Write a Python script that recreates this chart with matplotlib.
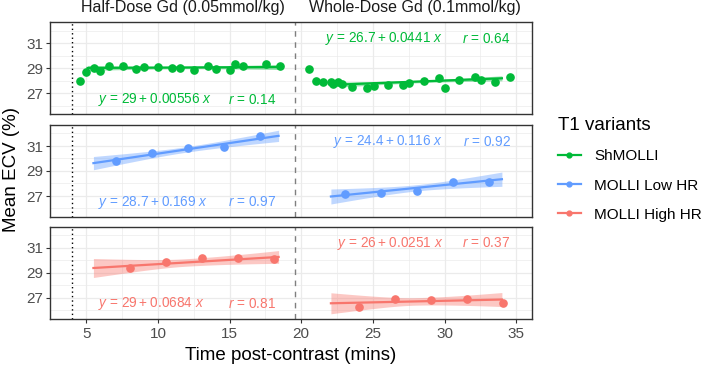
import numpy as np
import matplotlib
matplotlib.use('Agg')
import matplotlib.pyplot as plt
from matplotlib.lines import Line2D

plt.rcParams['font.family'] = ['Liberation Sans', 'DejaVu Sans']
plt.rcParams['mathtext.fontset'] = 'custom'
plt.rcParams['mathtext.it'] = 'Liberation Sans:italic'
plt.rcParams['mathtext.rm'] = 'Liberation Sans'

# ---- data ----
variants = ['ShMOLLI', 'MOLLI Low HR', 'MOLLI High HR']
colors = ['#00BA38', '#619CFF', '#F8766D']
dose_labels = ['Half-Dose Gd (0.05mmol/kg)', 'Whole-Dose Gd (0.1mmol/kg)']

shmolli_half_t = [4.53, 5.0, 5.56, 5.98, 6.56, 7.53, 8.49, 9.05, 10.02, 11.0, 11.56,
                  12.54, 13.51, 14.07, 15.05, 15.37, 15.93, 17.54, 18.54]
shmolli_half_ecv = [28.0, 28.74, 29.02, 28.82, 29.22, 29.22, 28.94, 29.14, 29.14, 29.02, 29.02,
                    28.88, 29.22, 28.94, 28.88, 29.34, 29.22, 29.34, 29.22]
shmolli_whole_t = [20.56, 21.0, 21.51, 22.07, 22.21, 22.53, 22.84, 23.51, 24.58, 25.05, 26.02,
                   27.1, 27.54, 28.53, 29.61, 30.0, 31.02, 32.09, 32.56, 33.54, 34.58]
shmolli_whole_ecv = [28.94, 28.02, 27.92, 27.92, 27.76, 27.92, 27.74, 27.54, 27.42, 27.6, 27.68,
                     27.68, 27.82, 28.02, 28.22, 27.46, 28.08, 28.34, 28.08, 27.94, 28.3]

low_half_t = [7.07, 9.58, 12.1, 14.58, 17.09]
low_half_ecv = [29.8, 30.44, 30.84, 30.92, 31.78]
low_whole_t = [23.07, 25.56, 28.07, 30.58, 33.1]
low_whole_ecv = [27.15, 27.2, 27.42, 28.14, 28.14]

high_half_t = [8.02, 10.56, 13.07, 15.56, 18.07]
high_half_ecv = [29.38, 29.83, 30.21, 30.15, 30.1]
high_whole_t = [24.05, 26.56, 29.07, 31.56, 34.07]
high_whole_ecv = [26.27, 26.92, 26.81, 26.92, 26.6]

# regression fits (intercept, slope, r) per variant: [half, whole]
fit_intercept = [[29, 26.7], [28.7, 24.4], [29, 26]]
fit_slope = [[0.00556, 0.0441], [0.169, 0.116], [0.0684, 0.0251]]
fit_r = [[0.14, 0.64], [0.97, 0.92], [0.81, 0.37]]
fit_tmin = [[5.09, 22.7], [5.5, 22.07], [5.5, 22.07]]
fit_tmax = [[18.49, 34.0], [18.42, 34.0], [18.42, 34.0]]
# confidence band half-widths: left end, centre, right end
band_left = [[0.2, 0.2], [0.53, 0.6], [0.76, 0.84]]
band_mid = [[0.1, 0.1], [0.22, 0.25], [0.3, 0.3]]
band_right = [[0.2, 0.2], [0.45, 0.57], [0.51, 0.56]]

points_t = [[shmolli_half_t, shmolli_whole_t], [low_half_t, low_whole_t], [high_half_t, high_whole_t]]
points_ecv = [[shmolli_half_ecv, shmolli_whole_ecv], [low_half_ecv, low_whole_ecv],
              [high_half_ecv, high_whole_ecv]]

fig = plt.figure(figsize=(7.08, 3.68), dpi=100)
W, H = 708, 368
panel_tops = [22.3, 125, 226.7]
panel_h = 92
thin = '\u2009'

for i in range(3):
    top = panel_tops[i]
    ax = fig.add_axes([50 / W, 1 - (top + panel_h) / H, 482 / W, panel_h / H])
    ax.set_xlim(2.47, 36.1)
    ax.set_ylim(25.32, 32.68)
    ax.set_xticks([5, 10, 15, 20, 25, 30, 35])
    ax.set_xticks([7.5, 12.5, 17.5, 22.5, 27.5, 32.5], minor=True)
    ax.set_yticks([27, 29, 31])
    ax.set_yticks([26, 28, 30, 32], minor=True)
    ax.grid(which='major', color='#EBEBEB', lw=0.9)
    ax.grid(which='minor', color='#EBEBEB', lw=0.5)
    ax.set_axisbelow(True)
    for s in ax.spines.values():
        s.set_color('#333333')
        s.set_linewidth(1.0)
    ax.tick_params(which='major', length=3, width=0.8, color='#333333',
                   labelsize=11, labelcolor='#4D4D4D', pad=2)
    ax.tick_params(which='minor', length=0)
    if i < 2:
        ax.tick_params(axis='x', labelbottom=False, length=0)
    else:
        ax.tick_params(axis='x', pad=3)

    ax.axvline(4, color='black', ls=(0, (1, 2.2)), lw=1.0)
    ax.axvline(19.55, color='#7F7F7F', ls=(0, (4, 4)), lw=1.0)

    c = colors[i]
    for j in range(2):
        t0, t1 = fit_tmin[i][j], fit_tmax[i][j]
        xs = np.linspace(t0, t1, 80)
        ys = fit_intercept[i][j] + fit_slope[i][j] * xs
        xm = (t0 + t1) / 2
        u = (xs - xm) / (t1 - xm)
        edge = np.where(xs < xm, band_left[i][j], band_right[i][j])
        hw = np.sqrt(band_mid[i][j] ** 2 + (edge ** 2 - band_mid[i][j] ** 2) * u ** 2)
        ax.fill_between(xs, ys - hw, ys + hw, color=c, alpha=0.4, lw=0)
        ax.plot(xs, ys, color=c, lw=1.6)
        ax.plot(points_t[i][j], points_ecv[i][j], 'o', color=c, ms=5.2)

        eq = r'$y$ = %g%s+%s%g $x$' % (fit_intercept[i][j], thin, thin, fit_slope[i][j])
        rr = r'$r$ = %g' % fit_r[i][j]
        if j == 0:
            ax.text(5.85, 26.5, eq, color=c, fontsize=9.8, ha='left', va='center')
            ax.text(14.9, 26.5, rr, color=c, fontsize=9.8, ha='left', va='center')
        else:
            ax.text(29.9, 31.35, eq, color=c, fontsize=9.8, ha='right', va='center')
            ax.text(34.6, 31.35, rr, color=c, fontsize=9.8, ha='right', va='center')

    if i == 0:
        ax.text(11.75, 1.075, dose_labels[0], transform=ax.get_xaxis_transform(),
                ha='center', va='bottom', fontsize=11.5, color='#1A1A1A')
        ax.text(27.9, 1.075, dose_labels[1], transform=ax.get_xaxis_transform(),
                ha='center', va='bottom', fontsize=11.5, color='#1A1A1A')

fig.text(12 / W, 1 - 170 / H, 'Mean ECV (%)', rotation=90, ha='center', va='center',
         fontsize=13.5, color='black')
fig.text(291 / W, 1 - 356 / H, 'Time post-contrast (mins)', ha='center', va='center',
         fontsize=13.5, color='black')

handles = [Line2D([], [], color=c, lw=1.6, marker='o', ms=3.5) for c in colors]
leg = fig.legend(handles, variants, loc='upper left', bbox_to_anchor=(558 / W, 1 - 117 / H),
                 frameon=False, title='T1 variants', fontsize=11, title_fontsize=13.5,
                 handlelength=1.5, handletextpad=0.85, labelspacing=1.0, alignment='left',
                 borderpad=0, borderaxespad=0)

fig.savefig('out.png', dpi=100)
